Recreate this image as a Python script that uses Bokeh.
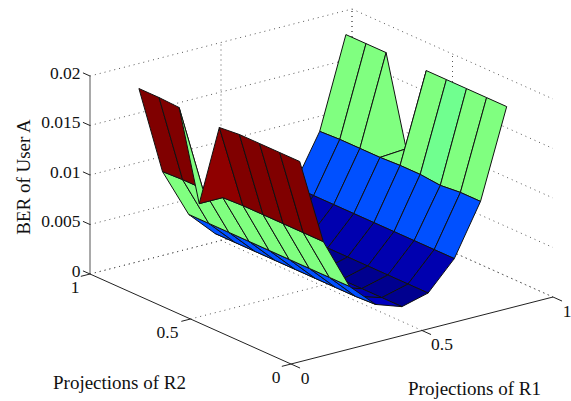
from bokeh.plotting import figure
from bokeh.models import Range1d, ColumnDataSource, LinearColorMapper
from bokeh.transform import transform
from bokeh.core.properties import value
from bokeh.embed import file_html
from bokeh.resources import INLINE

# ---- data ----
r1_grid = [0.11, 0.2, 0.3, 0.4, 0.5, 0.6, 0.7, 0.8, 0.9]
r2_grid = [0.1, 0.2, 0.3, 0.4, 0.5, 0.6, 0.7, 0.8, 0.9]
# BER of User A: one list per R1 value, entries follow r2_grid
ber_r1_01 = [0.0188, 0.0188, 0.0188, 0.0188, 0.0186, 0.0100, 0.0188, 0.0189, 0.0189]
ber_r1_02 = [0.0101, 0.0101, 0.0101, 0.0101, 0.0101, 0.0100, 0.0100, 0.0100, 0.0099]
ber_r1_03 = [0.0049, 0.0049, 0.0049, 0.0049, 0.0049, 0.0049, 0.0049, 0.0049, 0.0049]
ber_r1_04 = [0.0024, 0.0023, 0.0023, 0.0023, 0.0023, 0.0023, 0.0023, 0.0023, 0.0023]
ber_r1_05 = [0.0015, 0.0015, 0.0015, 0.0015, 0.0015, 0.0015, 0.0015, 0.0015, 0.0015]
ber_r1_06 = [0.0022, 0.0022, 0.0022, 0.0022, 0.0022, 0.0022, 0.0022, 0.0022, 0.0022]
ber_r1_07 = [0.0050, 0.0050, 0.0050, 0.0050, 0.0050, 0.0050, 0.0050, 0.0050, 0.0050]
ber_r1_08 = [0.0101, 0.0101, 0.0099, 0.0101, 0.0101, 0.0100, 0.0100, 0.0100, 0.0099]
ber_r1_09 = [0.0190, 0.0190, 0.0190, 0.0190, 0.0190, 0.0102, 0.0190, 0.0190, 0.0190]
ber = [ber_r1_01, ber_r1_02, ber_r1_03, ber_r1_04, ber_r1_05,
       ber_r1_06, ber_r1_07, ber_r1_08, ber_r1_09]

z_ticks = [0, 0.005, 0.01, 0.015, 0.02]
z_tick_labels = ["0", "0.005", "0.01", "0.015", "0.02"]
r_ticks = [0, 0.5, 1]
r_tick_labels = ["0", "0.5", "1"]
z_title = "BER of User A"
r1_title = "Projections of R1"
r2_title = "Projections of R2"

# ---- orthographic projection of the 3-D box on to the drawing plane ----
ORIGIN = (290.5, 363.5)
R1_VEC = (262.0, -67.0)
R2_VEC = (-201.0, -90.0)
Z_SCALE = -9900.0
Z_MAX = 0.02


def proj(r1, r2, z=0.0):
    return (ORIGIN[0] + r1 * R1_VEC[0] + r2 * R2_VEC[0],
            ORIGIN[1] + r1 * R1_VEC[1] + r2 * R2_VEC[1] + z * Z_SCALE)


def jet(n=64):
    out = []
    for k in range(n):
        t = (k + 1) / n
        c = [min(1, max(0, 1.5 - abs(4 * t - s))) for s in (3, 2, 1)]
        out.append("#%02x%02x%02x" % tuple(round(v * 255) for v in c))
    return out


p = figure(width=571, height=401, output_backend="svg", toolbar_location=None,
           x_range=Range1d(0, 571), y_range=Range1d(401, 0),
           min_border=0, outline_line_color=None, background_fill_color="white",
           border_fill_color="white")
p.axis.visible = False
p.grid.visible = False

# ---- back walls and floor: dotted grid ----
GRID = dict(line_color="#555555", line_width=1, line_dash="1 4")


def seg(a, b, **kw):
    p.line([a[0], b[0]], [a[1], b[1]], **kw)


for z in z_ticks:
    seg(proj(0, 1, z), proj(1, 1, z), **GRID)
    seg(proj(1, 1, z), proj(1, 0, z), **GRID)
for r in r_ticks[1:]:
    seg(proj(r, 0), proj(r, 1), **GRID)
    seg(proj(0, r), proj(1, r), **GRID)
    seg(proj(r, 1, 0), proj(r, 1, Z_MAX), **GRID)
    seg(proj(1, r, 0), proj(1, r, Z_MAX), **GRID)

# ---- surface: cells painted from the far corner to the near one ----
xs, ys, zs = [], [], []
for i in range(len(r1_grid) - 2, -1, -1):
    for j in range(len(r2_grid) - 2, -1, -1):
        corners = [(i, j), (i + 1, j), (i + 1, j + 1), (i, j + 1)]
        pts = [proj(r1_grid[a], r2_grid[b], ber[a][b]) for a, b in corners]
        xs.append([q[0] for q in pts])
        ys.append([q[1] for q in pts])
        zs.append(ber[i][j])
src = ColumnDataSource(dict(xs=xs, ys=ys, z=zs))
mapper = LinearColorMapper(palette=jet(), low=0.0015, high=0.019)
p.patches("xs", "ys", source=src, fill_color=transform("z", mapper),
          line_color="#111111", line_width=1)

# ---- solid axes and outward ticks ----
AXIS = dict(line_color="#222222", line_width=1)
seg(proj(0, 1, 0), proj(0, 0, 0), **AXIS)
seg(proj(0, 0, 0), proj(1, 0, 0), **AXIS)
seg(proj(0, 1, 0), proj(0, 1, Z_MAX), line_color="#555555", line_width=1)
for z in z_ticks:
    seg(proj(0, 1, z), proj(0, 1.035, z), **AXIS)
for r in r_ticks:
    seg(proj(r, 0), proj(r, -0.045), **AXIS)
    seg(proj(0, r), proj(-0.035, r), **AXIS)

# ---- texts ----
FONT = value("Liberation Serif")
TXT = dict(text_font=FONT, text_font_size="17.5px", text_color="#111111",
           text_baseline="middle")
for z, lab in zip(z_ticks, z_tick_labels):
    a = proj(0, 1, z)
    p.text([a[0] - 9.5], [a[1] - 3], text=[lab], text_align="right", **TXT)
for r, lab in zip(r_ticks, r_tick_labels):
    a = proj(0, r)
    shift = -23 if lab == "0.5" else -15
    p.text([a[0] + shift], [a[1] + 13], text=[lab], text_align="center", **TXT)
    b = proj(r, 0)
    shift = 20 if lab == "0.5" else 14
    p.text([b[0] + shift], [b[1] + 14], text=[lab], text_align="center", **TXT)

TITLE = dict(text_font=FONT, text_font_size="19px", text_color="#111111",
             text_baseline="middle", text_align="center")
p.text([23], [176], text=[z_title], angle=[1.5708], **TITLE)
p.text([119], [382], text=[r2_title], **TITLE)
p.text([474], [388], text=[r1_title], **TITLE)

open("out.html", "w").write(file_html(p, INLINE))
